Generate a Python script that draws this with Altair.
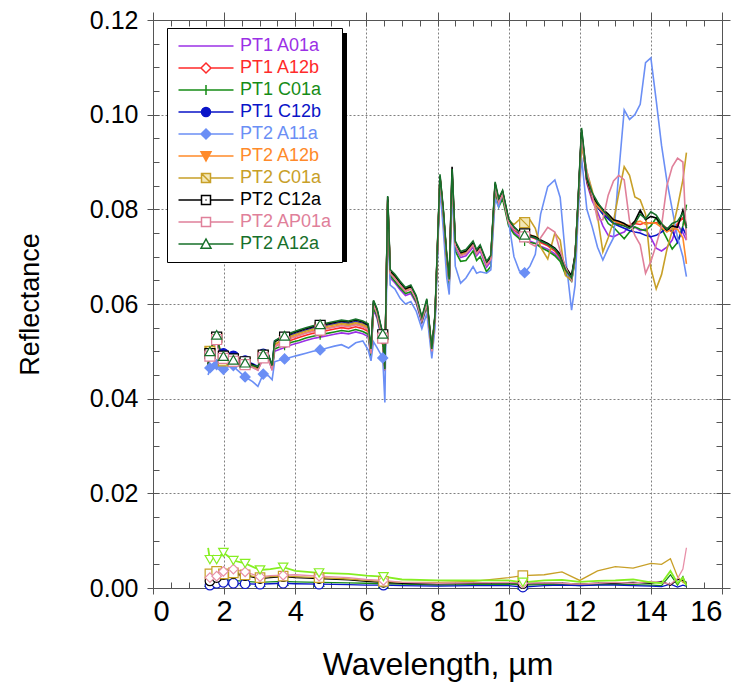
import altair as alt
import pandas as pd

# ---------------------------------------------------------------- data
# Wavelength grid (µm) shared by the ten reflectance spectra
WL = [1.55, 1.60, 1.70, 1.79, 1.86, 1.98, 2.05, 2.26, 2.35, 2.50,
      2.59, 2.80, 2.95, 3.10, 3.25, 3.35, 3.42, 3.55, 3.70, 3.90,
      4.10, 4.30, 4.50, 4.70, 4.90, 5.10, 5.30, 5.50, 5.70, 5.90,
      6.05, 6.13, 6.20, 6.30, 6.46, 6.52, 6.60, 6.67, 6.80, 6.95,
      7.10, 7.25, 7.40, 7.56, 7.70, 7.84, 7.93, 8.07, 8.16, 8.26,
      8.33, 8.41, 8.50, 8.65, 8.80, 9.00, 9.10, 9.20, 9.38, 9.50,
      9.62, 9.72, 9.83, 10.00, 10.15, 10.30, 10.45, 10.60, 10.75, 10.90,
      11.10, 11.30, 11.45, 11.60, 11.77, 11.87, 11.95, 12.05, 12.20, 12.35,
      12.50, 12.65, 12.80, 12.95, 13.10, 13.25, 13.40, 13.55, 13.70, 13.85,
      14.00, 14.15, 14.30, 14.45, 14.60, 14.75, 14.90, 15.00]

# grid positions that carry a plotting symbol
MARKER_IDX = [1, 3, 5, 7, 10, 13, 18, 23, 34, 66]

PT1_A01a = [0.0466, 0.0490, 0.0508, 0.0522, 0.0500, 0.0485, 0.0485, 0.0479, 0.0477, 0.0475,
            0.0473, 0.0467, 0.0461, 0.0486, 0.0484, 0.0460, 0.0500, 0.0504, 0.0508, 0.0514,
            0.0518, 0.0523, 0.0527, 0.0530, 0.0533, 0.0536, 0.0539, 0.0537, 0.0541, 0.0537,
            0.0531, 0.0488, 0.0588, 0.0570, 0.0515, 0.0458, 0.0805, 0.0655, 0.0645, 0.0630,
            0.0618, 0.0622, 0.0602, 0.0560, 0.0595, 0.0498, 0.0565, 0.0860, 0.0790, 0.0690,
            0.0645, 0.0865, 0.0720, 0.0698, 0.0702, 0.0720, 0.0702, 0.0712, 0.0678, 0.0690,
            0.0845, 0.0810, 0.0828, 0.0768, 0.0752, 0.0742, 0.0738, 0.0733, 0.0728, 0.0722,
            0.0716, 0.0706, 0.0694, 0.0668, 0.0650, 0.0695, 0.0800, 0.0955, 0.0855, 0.0818,
            0.0795, 0.0765, 0.0745, 0.0742, 0.0748, 0.0752, 0.0765, 0.0762, 0.0755, 0.0758,
            0.0740, 0.0718, 0.0712, 0.0720, 0.0735, 0.0768, 0.0750, 0.0735]

PT1_A12b = [0.0468, 0.0493, 0.0512, 0.0527, 0.0503, 0.0488, 0.0488, 0.0482, 0.0480, 0.0478,
            0.0476, 0.0470, 0.0464, 0.0490, 0.0488, 0.0464, 0.0510, 0.0515, 0.0518, 0.0524,
            0.0529, 0.0534, 0.0538, 0.0541, 0.0544, 0.0547, 0.0550, 0.0548, 0.0552, 0.0548,
            0.0542, 0.0495, 0.0598, 0.0580, 0.0525, 0.0462, 0.0815, 0.0665, 0.0655, 0.0640,
            0.0627, 0.0632, 0.0610, 0.0566, 0.0603, 0.0500, 0.0570, 0.0866, 0.0795, 0.0695,
            0.0648, 0.0870, 0.0725, 0.0703, 0.0707, 0.0725, 0.0707, 0.0717, 0.0683, 0.0695,
            0.0850, 0.0815, 0.0833, 0.0773, 0.0757, 0.0748, 0.0744, 0.0742, 0.0738, 0.0730,
            0.0723, 0.0712, 0.0698, 0.0670, 0.0652, 0.0700, 0.0805, 0.0960, 0.0858, 0.0822,
            0.0805, 0.0792, 0.0782, 0.0772, 0.0770, 0.0766, 0.0765, 0.0770, 0.0768, 0.0772,
            0.0770, 0.0772, 0.0768, 0.0760, 0.0752, 0.0770, 0.0782, 0.0760]

PT1_C01a = [0.0467, 0.0492, 0.0511, 0.0526, 0.0502, 0.0487, 0.0487, 0.0481, 0.0479, 0.0477,
            0.0475, 0.0469, 0.0463, 0.0489, 0.0487, 0.0462, 0.0505, 0.0509, 0.0513, 0.0519,
            0.0523, 0.0528, 0.0532, 0.0535, 0.0538, 0.0541, 0.0544, 0.0542, 0.0546, 0.0542,
            0.0536, 0.0490, 0.0592, 0.0575, 0.0520, 0.0460, 0.0812, 0.0660, 0.0648, 0.0634,
            0.0622, 0.0626, 0.0605, 0.0563, 0.0598, 0.0500, 0.0568, 0.0862, 0.0788, 0.0685,
            0.0640, 0.0868, 0.0712, 0.0690, 0.0692, 0.0712, 0.0692, 0.0700, 0.0668, 0.0680,
            0.0842, 0.0805, 0.0822, 0.0765, 0.0748, 0.0738, 0.0733, 0.0730, 0.0728, 0.0720,
            0.0712, 0.0702, 0.0690, 0.0662, 0.0648, 0.0692, 0.0802, 0.0958, 0.0860, 0.0825,
            0.0805, 0.0790, 0.0770, 0.0762, 0.0750, 0.0738, 0.0752, 0.0763, 0.0758, 0.0755,
            0.0765, 0.0782, 0.0760, 0.0738, 0.0716, 0.0730, 0.0765, 0.0810]

PT1_C12b = [0.0472, 0.0497, 0.0516, 0.0530, 0.0506, 0.0495, 0.0497, 0.0490, 0.0486, 0.0482,
            0.0480, 0.0474, 0.0468, 0.0494, 0.0492, 0.0468, 0.0522, 0.0526, 0.0528, 0.0535,
            0.0540, 0.0545, 0.0549, 0.0552, 0.0555, 0.0558, 0.0561, 0.0559, 0.0563, 0.0559,
            0.0553, 0.0498, 0.0603, 0.0585, 0.0532, 0.0463, 0.0820, 0.0667, 0.0657, 0.0642,
            0.0629, 0.0634, 0.0612, 0.0568, 0.0605, 0.0503, 0.0573, 0.0866, 0.0797, 0.0697,
            0.0652, 0.0875, 0.0727, 0.0705, 0.0709, 0.0727, 0.0709, 0.0719, 0.0685, 0.0697,
            0.0852, 0.0817, 0.0835, 0.0775, 0.0760, 0.0750, 0.0745, 0.0743, 0.0740, 0.0733,
            0.0726, 0.0716, 0.0702, 0.0675, 0.0657, 0.0702, 0.0808, 0.0962, 0.0860, 0.0825,
            0.0805, 0.0790, 0.0780, 0.0770, 0.0765, 0.0760, 0.0755, 0.0752, 0.0750, 0.0745,
            0.0742, 0.0745, 0.0752, 0.0760, 0.0755, 0.0730, 0.0760, 0.0745]

PT2_A11a = [0.0450, 0.0465, 0.0470, 0.0472, 0.0468, 0.0462, 0.0466, 0.0470, 0.0462, 0.0452,
            0.0446, 0.0436, 0.0426, 0.0452, 0.0448, 0.0440, 0.0478, 0.0481, 0.0484, 0.0488,
            0.0492, 0.0496, 0.0500, 0.0503, 0.0507, 0.0511, 0.0514, 0.0507, 0.0518, 0.0522,
            0.0503, 0.0480, 0.0520, 0.0508, 0.0486, 0.0392, 0.0790, 0.0640, 0.0632, 0.0612,
            0.0600, 0.0605, 0.0585, 0.0548, 0.0580, 0.0485, 0.0550, 0.0845, 0.0760, 0.0655,
            0.0620, 0.0850, 0.0680, 0.0644, 0.0655, 0.0679, 0.0665, 0.0668, 0.0665, 0.0672,
            0.0822, 0.0805, 0.0837, 0.0775, 0.0700, 0.0670, 0.0666, 0.0680, 0.0705, 0.0790,
            0.0848, 0.0862, 0.0825, 0.0700, 0.0587, 0.0640, 0.0780, 0.0910, 0.0800, 0.0763,
            0.0720, 0.0693, 0.0718, 0.0740, 0.0880, 0.1010, 0.0990, 0.1000, 0.1022, 0.1110,
            0.1120, 0.1030, 0.0935, 0.0860, 0.0800, 0.0740, 0.0700, 0.0658]

PT2_A12b = [0.0469, 0.0494, 0.0513, 0.0528, 0.0504, 0.0489, 0.0490, 0.0483, 0.0481, 0.0479,
            0.0477, 0.0471, 0.0465, 0.0491, 0.0489, 0.0465, 0.0514, 0.0519, 0.0523, 0.0530,
            0.0535, 0.0540, 0.0544, 0.0547, 0.0550, 0.0553, 0.0556, 0.0554, 0.0558, 0.0554,
            0.0548, 0.0497, 0.0600, 0.0582, 0.0528, 0.0463, 0.0818, 0.0667, 0.0657, 0.0642,
            0.0629, 0.0634, 0.0612, 0.0568, 0.0605, 0.0502, 0.0572, 0.0867, 0.0797, 0.0697,
            0.0650, 0.0872, 0.0727, 0.0705, 0.0709, 0.0727, 0.0709, 0.0719, 0.0685, 0.0697,
            0.0852, 0.0817, 0.0835, 0.0775, 0.0760, 0.0752, 0.0748, 0.0746, 0.0742, 0.0734,
            0.0726, 0.0716, 0.0702, 0.0673, 0.0656, 0.0702, 0.0808, 0.0963, 0.0862, 0.0826,
            0.0806, 0.0795, 0.0786, 0.0776, 0.0772, 0.0768, 0.0766, 0.0772, 0.0775, 0.0768,
            0.0772, 0.0770, 0.0762, 0.0752, 0.0760, 0.0758, 0.0740, 0.0685]

PT2_C01a = [0.0472, 0.0500, 0.0520, 0.0528, 0.0512, 0.0480, 0.0478, 0.0480, 0.0479, 0.0477,
            0.0475, 0.0469, 0.0463, 0.0490, 0.0488, 0.0464, 0.0515, 0.0521, 0.0525, 0.0533,
            0.0538, 0.0543, 0.0547, 0.0550, 0.0553, 0.0556, 0.0559, 0.0557, 0.0561, 0.0557,
            0.0551, 0.0498, 0.0602, 0.0584, 0.0530, 0.0464, 0.0822, 0.0668, 0.0658, 0.0643,
            0.0630, 0.0635, 0.0613, 0.0569, 0.0606, 0.0503, 0.0573, 0.0868, 0.0798, 0.0698,
            0.0652, 0.0880, 0.0728, 0.0706, 0.0710, 0.0728, 0.0710, 0.0720, 0.0686, 0.0698,
            0.0853, 0.0818, 0.0836, 0.0776, 0.0768, 0.0778, 0.0772, 0.0778, 0.0760, 0.0720,
            0.0695, 0.0750, 0.0735, 0.0660, 0.0650, 0.0700, 0.0808, 0.0935, 0.0880, 0.0840,
            0.0785, 0.0710, 0.0740, 0.0775, 0.0835, 0.0890, 0.0872, 0.0826, 0.0820, 0.0790,
            0.0675, 0.0632, 0.0662, 0.0715, 0.0755, 0.0805, 0.0862, 0.0920]

PT2_C12a = [0.0470, 0.0495, 0.0515, 0.0530, 0.0505, 0.0490, 0.0492, 0.0484, 0.0482, 0.0480,
            0.0478, 0.0472, 0.0466, 0.0492, 0.0490, 0.0466, 0.0520, 0.0526, 0.0530, 0.0538,
            0.0543, 0.0548, 0.0552, 0.0555, 0.0558, 0.0561, 0.0564, 0.0562, 0.0566, 0.0562,
            0.0556, 0.0500, 0.0606, 0.0588, 0.0535, 0.0465, 0.0826, 0.0670, 0.0660, 0.0645,
            0.0632, 0.0637, 0.0615, 0.0570, 0.0608, 0.0505, 0.0575, 0.0870, 0.0800, 0.0700,
            0.0655, 0.0890, 0.0730, 0.0708, 0.0712, 0.0730, 0.0712, 0.0722, 0.0688, 0.0700,
            0.0855, 0.0820, 0.0838, 0.0778, 0.0762, 0.0752, 0.0748, 0.0745, 0.0742, 0.0735,
            0.0728, 0.0718, 0.0705, 0.0678, 0.0660, 0.0705, 0.0810, 0.0968, 0.0865, 0.0830,
            0.0812, 0.0800, 0.0790, 0.0778, 0.0775, 0.0770, 0.0763, 0.0775, 0.0798, 0.0778,
            0.0785, 0.0782, 0.0768, 0.0756, 0.0765, 0.0762, 0.0798, 0.0765]

PT2_AP01a = [0.0465, 0.0490, 0.0510, 0.0525, 0.0500, 0.0485, 0.0486, 0.0479, 0.0477, 0.0474,
             0.0472, 0.0466, 0.0460, 0.0486, 0.0484, 0.0460, 0.0510, 0.0515, 0.0520, 0.0528,
             0.0533, 0.0538, 0.0542, 0.0545, 0.0548, 0.0551, 0.0554, 0.0552, 0.0556, 0.0552,
             0.0546, 0.0495, 0.0598, 0.0580, 0.0528, 0.0460, 0.0815, 0.0664, 0.0654, 0.0640,
             0.0627, 0.0632, 0.0610, 0.0566, 0.0602, 0.0500, 0.0570, 0.0864, 0.0794, 0.0694,
             0.0648, 0.0868, 0.0724, 0.0702, 0.0706, 0.0724, 0.0706, 0.0716, 0.0682, 0.0694,
             0.0848, 0.0814, 0.0832, 0.0772, 0.0758, 0.0752, 0.0742, 0.0728, 0.0722, 0.0740,
             0.0762, 0.0752, 0.0712, 0.0678, 0.0650, 0.0698, 0.0805, 0.0950, 0.0880, 0.0830,
             0.0778, 0.0778, 0.0830, 0.0860, 0.0872, 0.0862, 0.0775, 0.0745, 0.0725, 0.0665,
             0.0690, 0.0725, 0.0765, 0.0850, 0.0890, 0.0908, 0.0900, 0.0735]

PT2_A12a = [0.0472, 0.0500, 0.0520, 0.0535, 0.0508, 0.0490, 0.0488, 0.0482, 0.0480, 0.0478,
            0.0476, 0.0470, 0.0468, 0.0494, 0.0492, 0.0470, 0.0522, 0.0528, 0.0533, 0.0540,
            0.0545, 0.0550, 0.0554, 0.0557, 0.0560, 0.0563, 0.0566, 0.0564, 0.0568, 0.0564,
            0.0558, 0.0505, 0.0608, 0.0590, 0.0537, 0.0462, 0.0828, 0.0673, 0.0663, 0.0648,
            0.0635, 0.0640, 0.0618, 0.0572, 0.0611, 0.0505, 0.0578, 0.0874, 0.0803, 0.0703,
            0.0652, 0.0885, 0.0733, 0.0711, 0.0715, 0.0733, 0.0715, 0.0725, 0.0690, 0.0703,
            0.0858, 0.0823, 0.0840, 0.0780, 0.0763, 0.0752, 0.0746, 0.0743, 0.0740, 0.0733,
            0.0726, 0.0716, 0.0700, 0.0672, 0.0655, 0.0700, 0.0812, 0.0972, 0.0868, 0.0835,
            0.0815, 0.0798, 0.0785, 0.0770, 0.0768, 0.0765, 0.0760, 0.0770, 0.0790, 0.0780,
            0.0795, 0.0788, 0.0770, 0.0758, 0.0770, 0.0775, 0.0792, 0.0760]

SERIES = ["PT1 A01a", "PT1 A12b", "PT1 C01a", "PT1 C12b", "PT2 A11a",
          "PT2 A12b", "PT2 C01a", "PT2 C12a", "PT2 AP01a", "PT2 A12a"]
VALUES = [PT1_A01a, PT1_A12b, PT1_C01a, PT1_C12b, PT2_A11a,
          PT2_A12b, PT2_C01a, PT2_C12a, PT2_AP01a, PT2_A12a]
COLORS = ["#9B30E6", "#FF2A2A", "#168C16", "#0A14C8", "#6B8FF5",
          "#FF8A2A", "#C8A028", "#000000", "#E0809A", "#17702A"]

# Low-level spectra near zero (not listed in the key)
LOW_WL = [1.55, 1.60, 1.70, 1.79, 1.98, 2.26, 2.59, 3.01, 3.30, 3.66,
          4.00, 4.67, 5.50, 6.00, 6.48, 7.00, 8.00, 9.00, 10.00, 10.40,
          11.00, 11.50, 12.00, 12.50, 13.00, 13.50, 14.00, 14.30, 14.55, 14.75,
          14.90, 15.00]
LOW_MARKER_IDX = [1, 3, 4, 5, 6, 7, 9, 11, 14, 19]
LOW_GREEN = [0.0012, 0.0012, 0.0015, 0.0016, 0.0018, 0.0016, 0.0014, 0.0012, 0.0013, 0.0014,
             0.0013, 0.0012, 0.0011, 0.0010, 0.0009, 0.0008, 0.0006, 0.0007, 0.0008, 0.0006,
             0.0007, 0.0007, 0.0005, 0.0007, 0.0008, 0.0007, 0.0006, 0.0005, 0.0028, 0.0006,
             0.0024, 0.0003]
LOW_BLUE = [0.0004, 0.0006, 0.0008, 0.0010, 0.0012, 0.0010, 0.0009, 0.0008, 0.0009, 0.0010,
            0.0009, 0.0008, 0.0007, 0.0006, 0.0006, 0.0005, 0.0004, 0.0005, 0.0005, 0.0002,
            0.0005, 0.0006, 0.0005, 0.0006, 0.0006, 0.0005, 0.0004, 0.0003, 0.0008, 0.0002,
            0.0006, 0.0004]
LOW_BLACK = [0.0018, 0.0015, 0.0020, 0.0022, 0.0028, 0.0030, 0.0026, 0.0020, 0.0022, 0.0024,
             0.0022, 0.0020, 0.0017, 0.0014, 0.0012, 0.0010, 0.0009, 0.0010, 0.0011, 0.0009,
             0.0010, 0.0010, 0.0008, 0.0010, 0.0010, 0.0012, 0.0010, 0.0014, 0.0006, 0.0018,
             0.0016, 0.0012]
LOW_GOLD = [0.0025, 0.0030, 0.0032, 0.0035, 0.0030, 0.0032, 0.0028, 0.0022, 0.0024, 0.0025,
            0.0024, 0.0022, 0.0019, 0.0016, 0.0014, 0.0012, 0.0012, 0.0014, 0.0022, 0.0026,
            0.0028, 0.0034, 0.0016, 0.0036, 0.0045, 0.0042, 0.0052, 0.0050, 0.0062, 0.0024,
            0.0012, 0.0008]
LOW_PINK = [0.0030, 0.0022, 0.0026, 0.0025, 0.0035, 0.0040, 0.0034, 0.0024, 0.0026, 0.0027,
            0.0028, 0.0025, 0.0022, 0.0018, 0.0016, 0.0012, 0.0010, 0.0011, 0.0012, 0.0010,
            0.0011, 0.0010, 0.0008, 0.0010, 0.0012, 0.0010, 0.0014, 0.0012, 0.0008, 0.0020,
            0.0040, 0.0085]
LOW_LIME = [0.0085, 0.0060, 0.0068, 0.0060, 0.0075, 0.0058, 0.0052, 0.0038, 0.0040, 0.0044,
            0.0036, 0.0032, 0.0030, 0.0026, 0.0024, 0.0018, 0.0016, 0.0016, 0.0016, 0.0012,
            0.0016, 0.0017, 0.0013, 0.0015, 0.0016, 0.0018, 0.0012, 0.0010, 0.0036, 0.0010,
            0.0022, 0.0005]
LOW_VALUES = [LOW_GREEN, LOW_BLUE, LOW_BLACK, LOW_GOLD, LOW_PINK, LOW_LIME]
LOW_COLORS = ["#168C16", "#0A14C8", "#000000", "#C8A028", "#E88FA8", "#86EE22"]
LOW_SHAPES = ["triangle-up", "circle", "circle", "square", "diamond", "triangle-down"]

# ---------------------------------------------------------------- styling
CROSS = "M-1,0H1M0,-1V1"
SQ_DIAG = "M-1,-1H1V1H-1Z M-1,-1L1,1"
SQ_DOT = "M-1,-1H1V1H-1Z M-0.12,0H0.12"

# plotting symbol per series: (shape, fill)
MARKS = [None,
         ("diamond", "white"),
         (CROSS, "none"),
         ("circle", "#0A14C8"),
         ("diamond", "#6B8FF5"),
         ("triangle-down", "#FF8A2A"),
         (SQ_DIAG, "#F3E7B6"),
         (SQ_DOT, "white"),
         ("square", "white"),
         ("triangle-up", "white")]

# key symbols: a short line with the plotting symbol in its middle
# (one path unit is 5 px at the key's symbol size of 100; the drawing is
#  shifted right by 4.2 units so the line starts near the box edge)
LEG_PATHS = [
    "M-1.3,0H9.7",
    "M-1.3,0H3.2 M5.2,0H9.7 M3.2,0L4.2,-1L5.2,0L4.2,1Z",
    "M-1.3,0H9.7 M4.2,-1V1",
    "M-1.3,0H9.7 M3.3,0A0.9,0.9,0,1,1,5.1,0A0.9,0.9,0,1,1,3.3,0Z",
    "M-1.3,0H9.7 M3.2,0L4.2,-1L5.2,0L4.2,1Z",
    "M-1.3,0H9.7 M3.2,-0.85L5.2,-0.85L4.2,1Z",
    "M-1.3,0H3.3 M5.1,0H9.7 M3.3,-0.9H5.1V0.9H3.3Z M3.3,-0.9L5.1,0.9",
    "M-1.3,0H3.3 M5.1,0H9.7 M3.3,-0.9H5.1V0.9H3.3Z M4.1,0H4.3",
    "M-1.3,0H3.3 M5.1,0H9.7 M3.3,-0.9H5.1V0.9H3.3Z",
    "M-1.3,0H3.65 M4.75,0H9.7 M3.2,0.85L5.2,0.85L4.2,-1Z",
]
LEG_FILLS = ["none", "white", "none", "#0A14C8", "#6B8FF5",
             "#FF8A2A", "#F3E7B6", "white", "white", "white"]

FONT = "Liberation Sans"
GRID = "#808080"
AXIS = "#555555"

# ---------------------------------------------------------------- frames
rows = []
for name, vals in zip(SERIES, VALUES):
    for i, (w, r) in enumerate(zip(WL, vals)):
        rows.append({"series": name, "wl": w, "refl": r, "mark": int(i in MARKER_IDX)})
df = pd.DataFrame(rows)

low_rows = []
for k, vals in enumerate(LOW_VALUES):
    for i, (w, r) in enumerate(zip(LOW_WL, vals)):
        low_rows.append({"series": f"low{k}", "wl": w, "refl": r,
                         "mark": int(i in LOW_MARKER_IDX)})
low_df = pd.DataFrame(low_rows)

xs = alt.Scale(domain=[0, 16], nice=False, zero=False)
ys = alt.Scale(domain=[0, 0.12], nice=False, zero=False)

x_main = alt.X("wl:Q", scale=xs, axis=alt.Axis(
    orient="bottom", offset=0, values=list(range(0, 17, 2)), format="d",
    title="Wavelength, µm", grid=True, gridColor=GRID, gridDash=[2, 2], gridWidth=1,
    tickSize=6, tickColor=AXIS, domainColor=AXIS, labelFont=FONT, labelFontSize=29,
    labelColor="black", labelPadding=3, titleFont=FONT, titleFontSize=32,
    titleFontWeight="normal", titleColor="black", titlePadding=23))
y_main = alt.Y("refl:Q", scale=ys, axis=alt.Axis(
    orient="left", offset=0, values=[0, 0.02, 0.04, 0.06, 0.08, 0.10, 0.12], format=".2f",
    title="Reflectance", grid=True, gridColor=GRID, gridDash=[2, 2], gridWidth=1,
    tickSize=6, tickColor=AXIS, domainColor=AXIS, labelFont=FONT, labelFontSize=25,
    labelColor="black", labelPadding=9, titleFont=FONT, titleFontSize=27,
    titleFontWeight="normal", titleColor="black", titlePadding=45))

layers = []
# spectra near zero
for k, color in enumerate(LOW_COLORS):
    sub = alt.Chart(low_df).transform_filter(alt.datum.series == f"low{k}")
    layers.append(sub.mark_line(color=color, strokeWidth=1.8 if k == 5 else 1.3,
                                clip=True).encode(x=x_main, y=y_main))
for k, color in enumerate(LOW_COLORS):
    sub = alt.Chart(low_df).transform_filter(
        (alt.datum.series == f"low{k}") & (alt.datum.mark == 1))
    layers.append(sub.mark_point(shape=LOW_SHAPES[k], fill="white", filled=True,
                                 stroke=color, strokeWidth=1.2, size=90, opacity=1)
                  .encode(x=x_main, y=y_main))

# reflectance spectra
for name, color in zip(SERIES, COLORS):
    sub = alt.Chart(df).transform_filter(alt.datum.series == name)
    layers.append(sub.mark_line(color=color, strokeWidth=1.6, clip=True)
                  .encode(x=x_main, y=y_main))
for name, color, mk in zip(SERIES, COLORS, MARKS):
    if mk is None:
        continue
    shape, fill = mk
    sub = alt.Chart(df).transform_filter(
        (alt.datum.series == name) & (alt.datum.mark == 1))
    layers.append(sub.mark_point(shape=shape, filled=True, fill=fill, stroke=color,
                                 strokeWidth=1.2, size=100, opacity=1)
                  .encode(x=x_main, y=y_main))

# drop shadow behind the key box
layers.append(alt.Chart(pd.DataFrame({"k": [0]})).mark_rect(color="black").encode(
    x=alt.value(19), x2=alt.value(194), y=alt.value(13), y2=alt.value(242)))

# key: shape, stroke and fill legends on the same field merge into one
label_expr = "".join(f"datum.label == '{n}' ? '{c}' : " for n, c in zip(SERIES, COLORS)) + "'black'"
key_df = pd.DataFrame({"series": SERIES})
key_legend = alt.Legend(
    title=None, orient="none", legendX=14, legendY=8,
    padding=9, fillColor="white", strokeColor="black",
    symbolSize=100, symbolStrokeWidth=1.5,
    labelFont=FONT, labelFontSize=18, labelOffset=46, rowPadding=4,
    labelColor={"expr": label_expr})
key = alt.Chart(key_df).mark_point(size=100, strokeWidth=1.5, opacity=1, clip=True,
                                   filled=True).encode(
    x=alt.value(-500), y=alt.value(-500),
    shape=alt.Shape("series:N", scale=alt.Scale(domain=SERIES, range=LEG_PATHS),
                    legend=key_legend),
    stroke=alt.Stroke("series:N", scale=alt.Scale(domain=SERIES, range=COLORS),
                      legend=key_legend),
    fill=alt.Fill("series:N", scale=alt.Scale(domain=SERIES, range=LEG_FILLS),
                  legend=key_legend),
)
layers.append(key)

data_layer = alt.layer(*layers)

# frame: inward ticks on every side, mirrored axes on top/right
dummy = pd.DataFrame({"wl": [8.0], "refl": [0.06]})
minor_x = [v / 2 for v in range(0, 33)]
minor_y = [round(v * 0.005, 3) for v in range(0, 25)]


def frame_layer(xaxis, yaxis):
    return alt.Chart(dummy).mark_point(opacity=0).encode(
        x=alt.X("wl:Q", scale=xs, axis=xaxis),
        y=alt.Y("refl:Q", scale=ys, axis=yaxis))


inner = dict(labels=False, domain=False, grid=False, title=None, tickSize=6,
             tickColor=AXIS, offset=-6)
outer = dict(labels=False, domain=True, grid=False, title=None, tickSize=8,
             tickColor=AXIS, domainColor=AXIS, offset=0)
frame_in_bl = frame_layer(alt.Axis(orient="bottom", values=minor_x, **inner),
                          alt.Axis(orient="left", values=minor_y, **inner))
frame_out_tr = frame_layer(alt.Axis(orient="top", values=list(range(0, 17, 2)), **outer),
                           alt.Axis(orient="right", values=[0, 0.02, 0.04, 0.06, 0.08, 0.10, 0.12], **outer))
frame_in_tr = frame_layer(alt.Axis(orient="top", values=minor_x, **inner),
                          alt.Axis(orient="right", values=minor_y, **inner))

chart = alt.layer(data_layer, frame_in_bl, frame_out_tr, frame_in_tr).resolve_scale(
    x="independent", y="independent"
).properties(
    width=569, height=568,
    autosize=alt.AutoSizeParams(type="none"),
    padding={"left": 153, "top": 20, "right": 16, "bottom": 96},
).configure_view(stroke=None).configure(background="white")

chart.save("out.html", embed_options={"renderer": "svg", "actions": False})
